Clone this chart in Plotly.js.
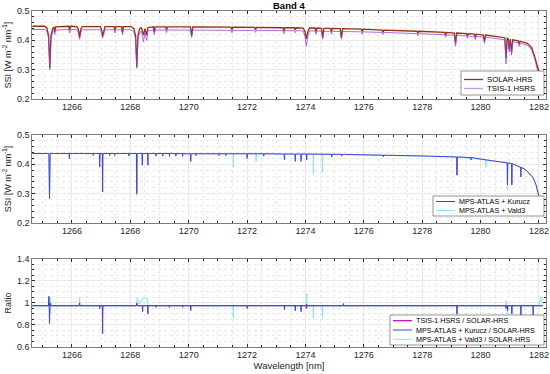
<!DOCTYPE html>
<html><head><meta charset="utf-8">
<script src="https://cdn.plot.ly/plotly-3.0.1.min.js"></script>
<style>html,body{margin:0;padding:0;background:#fff}#chart{width:550px;height:374px}</style>
</head><body><div id="chart"></div>
<script>
// ---------- DATA (wavelength [nm], value) ----------
const solarHRS = [
[1264.64,0.448],
[1265.05,0.448],[1265.14,0.442],[1265.2,0.415],[1265.24,0.307],[1265.28,0.415],[1265.34,0.441],[1265.38,0.444],[1265.41,0.43],[1265.44,0.446],
[1265.89,0.448],[1265.92,0.435],[1265.95,0.448],
[1266.17,0.447],[1266.22,0.437],[1266.26,0.41],[1266.3,0.437],[1266.35,0.447],
[1266.97,0.447],[1267.01,0.438],[1267.05,0.415],[1267.09,0.438],[1267.13,0.447],
[1267.44,0.447],[1267.47,0.435],[1267.5,0.447],
[1267.7,0.447],[1267.73,0.428],[1267.76,0.447],
[1268.02,0.447],[1268.12,0.44],[1268.18,0.415],[1268.22,0.31],[1268.26,0.415],[1268.32,0.44],[1268.38,0.443],[1268.45,0.418],[1268.5,0.44],[1268.56,0.418],[1268.6,0.443],
[1268.79,0.446],[1268.82,0.428],[1268.85,0.446],
[1269.21,0.446],[1269.24,0.435],[1269.27,0.446],
[1270.06,0.446],[1270.1,0.418],[1270.14,0.446],
[1271.45,0.445],[1271.48,0.435],[1271.51,0.445],
[1272.26,0.444],[1272.29,0.436],[1272.32,0.444],
[1273.23,0.443],[1273.26,0.432],[1273.29,0.443],
[1273.62,0.443],[1273.65,0.435],[1273.68,0.443],
[1273.92,0.442],[1273.98,0.43],[1274.03,0.405],[1274.08,0.43],[1274.14,0.442],
[1274.33,0.442],[1274.36,0.43],[1274.39,0.442],
[1274.55,0.441],[1274.59,0.41],[1274.63,0.441],
[1274.86,0.441],[1274.89,0.43],[1274.92,0.441],
[1275.19,0.44],[1275.23,0.41],[1275.27,0.44],
[1275.91,0.438],[1275.94,0.43],[1275.97,0.438],
[1276.62,0.435],[1276.65,0.428],[1276.68,0.435],
[1277.82,0.431],[1277.85,0.424],[1277.88,0.431],
[1278.77,0.427],[1278.8,0.418],[1278.83,0.427],
[1279.1,0.425],[1279.14,0.39],[1279.18,0.425],
[1279.52,0.423],[1279.55,0.415],[1279.58,0.423],
[1279.79,0.421],[1279.82,0.41],[1279.85,0.421],
[1280.09,0.418],[1280.13,0.398],[1280.17,0.418],
[1280.83,0.409],[1280.87,0.34],[1280.91,0.407],[1280.95,0.405],[1280.98,0.37],[1281.02,0.404],[1281.06,0.36],[1281.1,0.402],
[1281.29,0.398],[1281.32,0.388],[1281.35,0.397],
[1281.6,0.39],[1281.75,0.375],[1281.85,0.345],[1281.95,0.305],[1282.05,0.275],[1282.12,0.262]
];
const tsisHSRS = [
[1264.64,0.437],
[1265.05,0.437],[1265.14,0.431],[1265.2,0.405],[1265.24,0.30],[1265.28,0.405],[1265.34,0.43],[1265.38,0.433],[1265.41,0.42],[1265.44,0.435],
[1265.89,0.437],[1265.92,0.425],[1265.95,0.437],
[1266.17,0.436],[1266.22,0.425],[1266.26,0.404],[1266.3,0.425],[1266.35,0.436],
[1266.97,0.436],[1267.01,0.427],[1267.05,0.408],[1267.09,0.427],[1267.13,0.436],
[1267.44,0.436],[1267.47,0.425],[1267.5,0.436],
[1267.7,0.436],[1267.73,0.42],[1267.76,0.436],
[1268.02,0.436],[1268.12,0.428],[1268.18,0.405],[1268.22,0.305],[1268.26,0.405],[1268.32,0.428],[1268.38,0.43],[1268.45,0.395],[1268.5,0.428],[1268.56,0.40],[1268.6,0.432],
[1268.79,0.435],[1268.82,0.42],[1268.85,0.435],
[1269.21,0.435],[1269.24,0.426],[1269.27,0.435],
[1270.06,0.435],[1270.1,0.41],[1270.14,0.435],
[1271.45,0.434],[1271.48,0.426],[1271.51,0.434],
[1272.26,0.434],[1272.29,0.427],[1272.32,0.434],
[1273.23,0.433],[1273.26,0.423],[1273.29,0.433],
[1273.62,0.433],[1273.65,0.426],[1273.68,0.433],
[1273.92,0.432],[1273.98,0.415],[1274.03,0.38],[1274.08,0.415],[1274.14,0.432],
[1274.33,0.432],[1274.36,0.421],[1274.39,0.432],
[1274.55,0.431],[1274.59,0.404],[1274.63,0.431],
[1274.86,0.431],[1274.89,0.421],[1274.92,0.431],
[1275.19,0.43],[1275.23,0.405],[1275.27,0.43],
[1275.91,0.429],[1275.94,0.421],[1275.97,0.429],
[1276.62,0.427],[1276.65,0.42],[1276.68,0.427],
[1277.82,0.423],[1277.85,0.416],[1277.88,0.423],
[1278.77,0.419],[1278.8,0.41],[1278.83,0.419],
[1279.1,0.417],[1279.14,0.38],[1279.18,0.417],
[1279.52,0.415],[1279.55,0.407],[1279.58,0.415],
[1279.79,0.413],[1279.82,0.402],[1279.85,0.413],
[1280.09,0.411],[1280.13,0.39],[1280.17,0.411],
[1280.83,0.402],[1280.87,0.32],[1280.91,0.40],[1280.95,0.398],[1280.98,0.36],[1281.02,0.397],[1281.06,0.35],[1281.1,0.395],
[1281.29,0.392],[1281.32,0.38],[1281.35,0.391],
[1281.6,0.383],[1281.75,0.368],[1281.85,0.338],[1281.95,0.298],[1282.05,0.27],[1282.12,0.258]
];
const mpsKurucz = [
[1264.64,0.437],
[1265.21,0.437],[1265.23,0.283],[1265.25,0.437],
[1265.9,0.437],[1265.91,0.419],[1265.92,0.437],
[1266.72,0.437],[1266.73,0.43],[1266.74,0.437],
[1266.94,0.437],[1266.95,0.391],[1266.96,0.437],
[1267.04,0.437],[1267.05,0.306],[1267.06,0.437],
[1267.28,0.437],[1267.29,0.43],[1267.3,0.437],
[1267.45,0.437],[1267.46,0.43],[1267.47,0.437],
[1267.94,0.437],[1267.95,0.428],[1267.96,0.437],
[1268.21,0.437],[1268.22,0.30],[1268.23,0.437],
[1268.4,0.437],[1268.41,0.397],[1268.42,0.437],
[1268.59,0.437],[1268.6,0.397],[1268.61,0.437],
[1268.87,0.437],[1268.88,0.428],[1268.89,0.437],
[1269.1,0.437],[1269.11,0.428],[1269.12,0.437],
[1269.33,0.437],[1269.34,0.427],[1269.35,0.437],
[1269.55,0.437],[1269.56,0.428],[1269.57,0.437],
[1269.78,0.436],[1269.79,0.427],[1269.8,0.436],
[1270.06,0.436],[1270.07,0.41],[1270.08,0.436],
[1270.24,0.436],[1270.25,0.43],[1270.26,0.436],
[1271.03,0.436],[1271.04,0.43],[1271.05,0.436],
[1271.26,0.436],[1271.27,0.43],[1271.28,0.436],
[1271.99,0.436],[1272.0,0.42],[1272.01,0.436],
[1272.56,0.436],[1272.57,0.428],[1272.58,0.436],
[1273.27,0.435],[1273.28,0.415],[1273.29,0.435],
[1273.64,0.435],[1273.65,0.41],[1273.66,0.435],
[1273.84,0.435],[1273.85,0.41],[1273.86,0.435],
[1274.03,0.435],[1274.04,0.415],[1274.05,0.435],
[1274.89,0.434],[1274.9,0.425],[1274.91,0.434],
[1275.23,0.434],[1275.24,0.428],[1275.25,0.434],
[1276.66,0.431],[1276.67,0.425],[1276.68,0.431],
[1277.85,0.429],
[1279.18,0.425],[1279.19,0.363],[1279.2,0.425],
[1279.66,0.423],[1279.67,0.415],[1279.68,0.423],
[1280.2,0.415],
[1280.91,0.405],[1280.92,0.33],[1280.93,0.405],
[1281.06,0.402],[1281.07,0.33],[1281.08,0.402],
[1281.37,0.39],[1281.38,0.357],[1281.39,0.39],
[1281.55,0.381],[1281.8,0.355],[1281.9,0.33],[1282.0,0.29],[1282.1,0.27]
];
const mpsVald3 = [
[1264.64,0.437],
[1265.2,0.437],[1265.23,0.283],[1265.26,0.437],
[1266.94,0.437],[1266.95,0.42],[1266.96,0.437],
[1267.04,0.437],[1267.05,0.39],[1267.06,0.437],
[1268.2,0.437],[1268.22,0.294],[1268.24,0.437],
[1268.4,0.437],[1268.41,0.41],[1268.42,0.437],
[1271.52,0.436],[1271.53,0.391],[1271.54,0.436],
[1272.3,0.436],[1272.31,0.41],[1272.32,0.436],
[1274.26,0.435],[1274.27,0.368],[1274.28,0.435],
[1274.57,0.435],[1274.58,0.374],[1274.59,0.435],
[1276.15,0.432],[1277.85,0.429],
[1279.18,0.425],[1279.19,0.363],[1279.2,0.425],
[1280.17,0.415],[1280.18,0.39],[1280.19,0.415],
[1280.91,0.405],[1280.92,0.311],[1280.93,0.405],
[1281.06,0.402],[1281.07,0.335],[1281.08,0.402],
[1281.55,0.381],[1281.8,0.352],[1281.9,0.325],[1282.0,0.288],[1282.1,0.268]
];
const ratioTSIS = [
[1264.64,0.976],[1265.22,0.976],[1265.24,0.99],[1265.26,0.976],
[1268.2,0.976],[1268.22,0.99],[1268.24,0.976],
[1274.01,0.976],[1274.03,0.95],[1274.05,0.976],
[1280.85,0.976],[1280.87,0.95],[1280.89,0.976],
[1282.12,0.976]
];
const ratioKurucz = [
[1264.64,0.975],
[1265.19,0.975],[1265.21,1.06],[1265.23,0.813],[1265.25,1.0],[1265.28,0.975],
[1266.25,0.975],[1266.26,1.0],[1266.27,0.975],
[1266.94,0.975],[1266.95,0.95],[1266.96,0.975],
[1267.04,0.975],[1267.05,0.722],[1267.06,0.975],
[1268.21,0.975],[1268.22,1.0],[1268.23,0.975],
[1268.41,0.975],[1268.42,0.92],[1268.43,0.975],
[1268.59,0.975],[1268.6,0.9],[1268.61,0.975],
[1268.87,0.975],[1268.88,0.96],[1268.89,0.975],
[1269.33,0.975],[1269.34,0.96],[1269.35,0.975],
[1269.78,0.975],[1269.79,0.96],[1269.8,0.975],
[1270.06,0.975],[1270.07,0.93],[1270.08,0.975],
[1271.99,0.975],[1272.0,0.95],[1272.01,0.975],
[1273.27,0.975],[1273.28,0.94],[1273.29,0.975],
[1273.64,0.975],[1273.65,0.93],[1273.66,0.975],
[1273.84,0.975],[1273.85,0.92],[1273.86,0.975],
[1274.03,0.975],[1274.04,0.99],[1274.05,0.975],
[1275.29,0.975],[1275.3,0.995],[1275.31,0.975],
[1279.18,0.975],[1279.19,0.9],[1279.2,0.975],
[1280.91,0.975],[1280.92,0.93],[1280.93,0.975],
[1281.06,0.975],[1281.07,0.9],[1281.08,0.975],
[1281.37,0.975],[1281.38,0.87],[1281.39,0.975],
[1281.79,0.975],[1281.8,0.87],[1281.81,0.975],
[1282.12,0.975]
];
const ratioVald3 = [
[1264.64,0.975],
[1265.2,0.975],[1265.22,1.06],[1265.24,0.9],[1265.26,1.04],[1265.3,0.975],
[1266.24,0.975],[1266.26,1.05],[1266.28,0.975],
[1267.04,0.975],[1267.05,0.93],[1267.06,0.975],
[1268.2,0.975],[1268.24,1.05],[1268.3,0.99],[1268.45,1.05],[1268.56,1.04],[1268.62,0.975],
[1271.52,0.975],[1271.53,0.86],[1271.54,0.975],
[1274.02,0.975],[1274.04,1.087],[1274.06,0.975],
[1274.26,0.975],[1274.27,0.86],[1274.28,0.975],
[1274.57,0.975],[1274.58,0.87],[1274.59,0.975],
[1279.18,0.975],[1279.19,0.89],[1279.2,0.975],
[1280.85,0.975],[1280.87,1.02],[1280.92,0.9],[1280.96,0.975],
[1281.06,0.975],[1281.07,0.92],[1281.08,0.975],
[1282.0,0.975],[1282.06,1.06],[1282.12,0.98]
];
const xTicks = [1266,1268,1270,1272,1274,1276,1278,1280,1282];
const ssiTicks = [0.2,0.3,0.4,0.5];
const ratioTicks = [0.6,0.8,1,1.2,1.4];
const legend1 = ['SOLAR-HRS','TSIS-1 HSRS'];
const legend2 = ['MPS-ATLAS + Kurucz','MPS-ATLAS + Vald3'];
const legend3 = ['TSIS-1 HSRS / SOLAR-HRS','MPS-ATLAS + Kurucz / SOLAR-HRS','MPS-ATLAS + Vald3 / SOLAR-HRS'];

// ---------- STYLE ----------
const FONT = 'Liberation Sans, Arial, sans-serif';
const C_SOLAR = '#93300f', C_TSIS = 'rgba(150,60,205,0.75)';
const C_KUR = '#4a3fd0', C_VALD = '#86e6f2', C_RTSIS = '#c010b0';

function tr(data, xa, ya, color, w) {
  return {type:'scatter', mode:'lines', x:data.map(d=>d[0]), y:data.map(d=>d[1]),
    xaxis:xa, yaxis:ya, line:{color:color, width:w}, hoverinfo:'skip', showlegend:false};
}
const traces = [
  tr(solarHRS,'x','y',C_SOLAR,1.3),
  tr(tsisHSRS,'x','y',C_TSIS,1),
  tr(mpsVald3,'x2','y2',C_VALD,1),
  tr(mpsKurucz,'x2','y2',C_KUR,1),
  tr(ratioVald3,'x3','y3',C_VALD,1),
  tr(ratioTSIS,'x3','y3',C_RTSIS,1),
  tr(ratioKurucz,'x3','y3',C_KUR,1)
];

const tickFont = {family:FONT, size:9, color:'#262626'};
function xax(anchor) {
  return {anchor:anchor, range:[1264.63,1282.24], tickmode:'array', tickvals:xTicks,
    ticks:'inside', ticklen:3, tickcolor:'#262626', showline:true, linecolor:'#262626', linewidth:0.6,
    mirror:'ticks', showgrid:true, gridcolor:'#e2e2e2', gridwidth:0.6, zeroline:false,
    tickfont:tickFont, ticklabeloverflow:'allow',
    minor:{dtick:0.5, tick0:1264, ticks:'inside', ticklen:2, tickcolor:'#262626', showgrid:true, gridcolor:'#dadada', griddash:'dot', gridwidth:0.6}};
}
function yax(domain, range, tv, minorStep, title) {
  return {domain:domain, range:range, tickmode:'array', tickvals:tv,
    ticks:'inside', ticklen:3, tickcolor:'#262626', showline:true, linecolor:'#262626', linewidth:0.6,
    mirror:'ticks', showgrid:true, gridcolor:'#e2e2e2', gridwidth:0.6, zeroline:false,
    tickfont:tickFont,
    title:{text:title, font:{family:FONT, size:9, color:'#262626'}, standoff:3},
    minor:{dtick:minorStep, tick0:0, ticks:'inside', ticklen:2, tickcolor:'#262626', showgrid:true, gridcolor:'#dadada', griddash:'dot', gridwidth:0.6}};
}

// manual MATLAB-like legends (paper coordinates from pixel positions)
const L=32, W=514, B=347, H=336;
const px = v => (v-L)/W, py = v => (B-v)/H;
const shapes=[], annotations=[];
function legendBox(x0,x1,y0,y1,rows,labels,colors,widths,fs){
  shapes.push({type:'rect',xref:'paper',yref:'paper',x0:px(x0),x1:px(x1),y0:py(y1),y1:py(y0),
    line:{color:'#4d4d4d',width:0.6},fillcolor:'#ffffff',layer:'above'});
  labels.forEach((lab,i)=>{
    shapes.push({type:'line',xref:'paper',yref:'paper',x0:px(x0+3),x1:px(x0+22),y0:py(rows[i]),y1:py(rows[i]),
      line:{color:colors[i],width:widths[i]},layer:'above'});
    annotations.push({xref:'paper',yref:'paper',x:px(x0+23.5),y:py(rows[i]),xanchor:'left',yanchor:'middle',
      text:lab,showarrow:false,font:{family:FONT,size:fs,color:'#000'}});
  });
}
legendBox(461,544,71,95,[79.5,88.5],legend1,[C_SOLAR,'#c49ae8'],[1.3,1.3],7.8);
legendBox(433,544,196,216,[201.5,210.5],legend2,[C_KUR,C_VALD],[1,1],7.2);
legendBox(390,544,315,345,[320.7,330,339.3],legend3,[C_RTSIS,C_KUR,C_VALD],[1.3,1,1],7.2);

annotations.push({xref:'paper',yref:'paper',x:0.5,y:py(5.5),xanchor:'center',yanchor:'middle',showarrow:false,
  text:'<b>Band 4</b>',font:{family:FONT,size:9.5,color:'#000'}});

const layout = {
  width:550, height:374, margin:{l:32,r:4,t:11,b:27}, paper_bgcolor:'#fff', plot_bgcolor:'#fff',
  showlegend:false,
  xaxis:xax('y'), xaxis2:xax('y2'),
  xaxis3:Object.assign(xax('y3'),{title:{text:'Wavelength [nm]',font:{family:FONT,size:9.5,color:'#262626'},standoff:2}}),
  yaxis:yax([0.738,1],[0.2,0.5],ssiTicks,0.02,'SSI [W m<sup>-2</sup> nm<sup>-1</sup>]'),
  yaxis2:yax([0.369,0.631],[0.2,0.5],ssiTicks,0.02,'SSI [W m<sup>-2</sup> nm<sup>-1</sup>]'),
  yaxis3:yax([0,0.262],[0.6,1.4],ratioTicks,0.05,'Ratio'),
  shapes:shapes, annotations:annotations
};
Plotly.newPlot('chart', traces, layout, {staticPlot:true, displayModeBar:false});
</script></body></html>
